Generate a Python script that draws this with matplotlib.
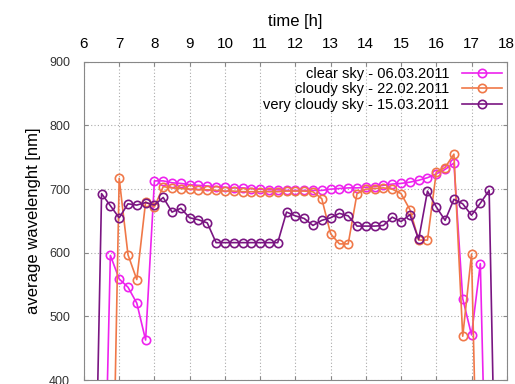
import matplotlib
matplotlib.use("Agg")
import matplotlib.pyplot as plt
import numpy as np

plt.rcParams['font.family'] = ['Liberation Sans', 'DejaVu Sans']

# time grid: 15 min steps
t_clear = np.arange(6.5, 17.51, 0.25)
clear = [0, 596, 559, 546, 521, 463, 713, 713, 710, 709, 707, 706, 705, 704, 703,
         702, 702, 701, 700, 699, 699, 698, 698, 698, 698, 698, 700, 701, 702, 702,
         703, 704, 706, 708, 709, 711, 714, 718, 724, 731, 741, 528, 471, 583, 0]

t_cloudy = np.arange(6.75, 17.26, 0.25)
cloudy = [0, 717, 597, 558, 680, 672, 704, 702, 701, 700, 699, 699, 698, 697, 697,
          696, 696, 696, 696, 696, 697, 697, 697, 696, 685, 630, 614, 614, 693, 700,
          701, 702, 700, 693, 668, 620, 620, 727, 734, 755, 469, 598, 0]

t_vcloudy = np.arange(6.25, 17.76, 0.25)
vcloudy = [0, 693, 674, 655, 677, 675, 679, 675, 687, 664, 670, 655, 652, 647,
           616, 616, 616, 616, 616, 616, 616, 616, 664, 658, 654, 643, 651, 655,
           662, 658, 642, 642, 642, 643, 656, 649, 660, 621, 697, 672, 651, 684,
           677, 659, 678, 698, 0]

labels = ['clear sky - 06.03.2011', 'cloudy sky - 22.02.2011', 'very cloudy sky - 15.03.2011']
colors = ['#ee22ee', '#f07848', '#7a1582']

fig = plt.figure(figsize=(5.15, 3.84), dpi=100)
ax = fig.add_axes([0.163, 0.010, 0.821, 0.829])

for t, v, lab, c in [(t_clear, clear, labels[0], colors[0]),
                     (t_cloudy, cloudy, labels[1], colors[1]),
                     (t_vcloudy, vcloudy, labels[2], colors[2])]:
    ax.plot(t, v, '-o', color=c, label=lab, lw=1.2, ms=6,
            mfc='none', mew=1.2)

ax.set_xlim(6, 18)
ax.set_ylim(400, 900)
ax.set_xticks(range(6, 19))
ax.set_yticks(range(400, 901, 100))
ax.xaxis.tick_top()
ax.xaxis.set_label_position('top')
ax.set_xlabel('time [h]', fontsize=12, labelpad=8)
ax.set_ylabel('average wavelenght [nm]', fontsize=12, labelpad=6)
ax.tick_params(axis='x', which='both', direction='in', top=True, bottom=True,
               labelsize=11, pad=8, length=3, color='#888888')
ax.tick_params(axis='y', direction='in', left=True, right=True,
               labelsize=9, pad=10, length=3, color='#888888', labelcolor='#333333')
ax.grid(True, linestyle=(0, (1, 2)), color='#aaaaaa', lw=0.8)
for s in ax.spines.values():
    s.set_color('#888888')

# gnuplot style key: right-aligned text, sample on the right
ax.legend(loc='upper right', frameon=False, markerfirst=False,
          fontsize=10.5, handlelength=2.7, labelspacing=0.1,
          borderaxespad=0.15, borderpad=0.2, handletextpad=0.9)

fig.savefig('out.png', dpi=100)
